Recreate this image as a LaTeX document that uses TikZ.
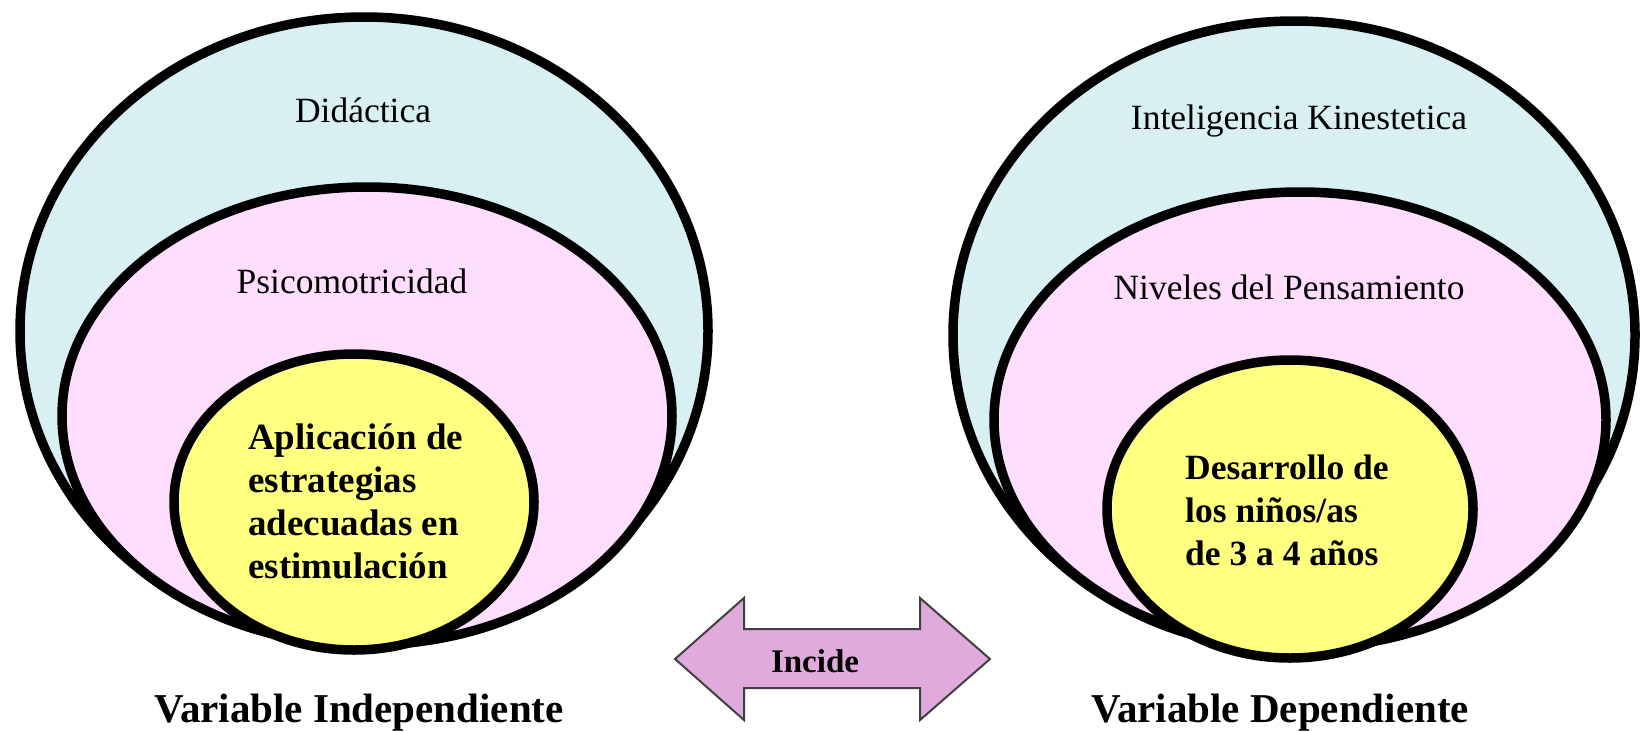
\documentclass[tikz,border=0pt]{standalone}
\usepackage{fontspec}
\setmainfont{Liberation Serif}
\usetikzlibrary{shapes.geometric}
\definecolor{cyanfill}{HTML}{D8F0F2}
\definecolor{pinkfill}{HTML}{FFDDFD}
\definecolor{yellowfill}{HTML}{FFFF80}
\definecolor{arrowfill}{HTML}{E0AADC}
\definecolor{arrowline}{HTML}{404040}
\begin{document}
\begin{tikzpicture}[x=1pt,y=-1pt,
  ring/.style={ellipse, draw=black, line width=9.5pt, inner sep=0pt},
  lbl/.style={font=\fontsize{35.5}{40}\selectfont, inner sep=0pt},
  core/.style={font=\fontsize{37}{43}\selectfont\bfseries, align=left, inner sep=0pt, anchor=west},
  varlbl/.style={font=\fontsize{41}{46}\selectfont\bfseries, inner sep=0pt, anchor=base}]
\useasboundingbox (0,0) rectangle (1640,731);
\fill[white] (0,0) rectangle (1640,731);
% left group
\node[ring, fill=cyanfill, minimum width=688pt, minimum height=628pt] (outerL) at (364,331) {};
\node[ring, fill=pinkfill, minimum width=610pt, minimum height=458pt] (midL) at (367,416) {};
\node[ring, fill=yellowfill, minimum width=360pt, minimum height=296pt] (coreL) at (354,502) {};
% right group
\node[ring, fill=cyanfill, minimum width=682pt, minimum height=628pt] (outerR) at (1294,335) {};
\node[ring, fill=pinkfill, minimum width=612pt, minimum height=456pt] (midR) at (1300,420) {};
\node[ring, fill=yellowfill, minimum width=366pt, minimum height=298pt] (coreR) at (1290,509) {};
% texts
\node[lbl] (didactica) at (363,110) {Didáctica};
\node[lbl] (psico) at (352,281) {Psicomotricidad};
\node[core] (aplic) at (248,501) {Aplicación de\\estrategias\\adecuadas en\\estimulación};
\node[lbl] (kines) at (1299,121) {Inteligencia Kinestetica};
\node[lbl] (niveles) at (1289,287) {Niveles del Pensamiento};
\node[core, font=\fontsize{35.5}{43}\selectfont\bfseries] (desarr) at (1185,510) {Desarrollo de\\los niños/as\\de 3 a 4 años};
\node[varlbl] (vind) at (359,722) {Variable Independiente};
\node[varlbl] (vdep) at (1280,722) {Variable Dependiente};
% double arrow
\draw[arrowline, fill=arrowfill, line width=2pt, line join=miter]
  (675,659) -- (744,598) -- (744,629) -- (920,629) -- (920,598) -- (990,659)
  -- (920,720) -- (920,688) -- (744,688) -- (744,720) -- cycle;
\node[font=\fontsize{33}{38}\selectfont\bfseries, inner sep=0pt] (incide) at (815,661) {Incide};
\end{tikzpicture}
\end{document}
